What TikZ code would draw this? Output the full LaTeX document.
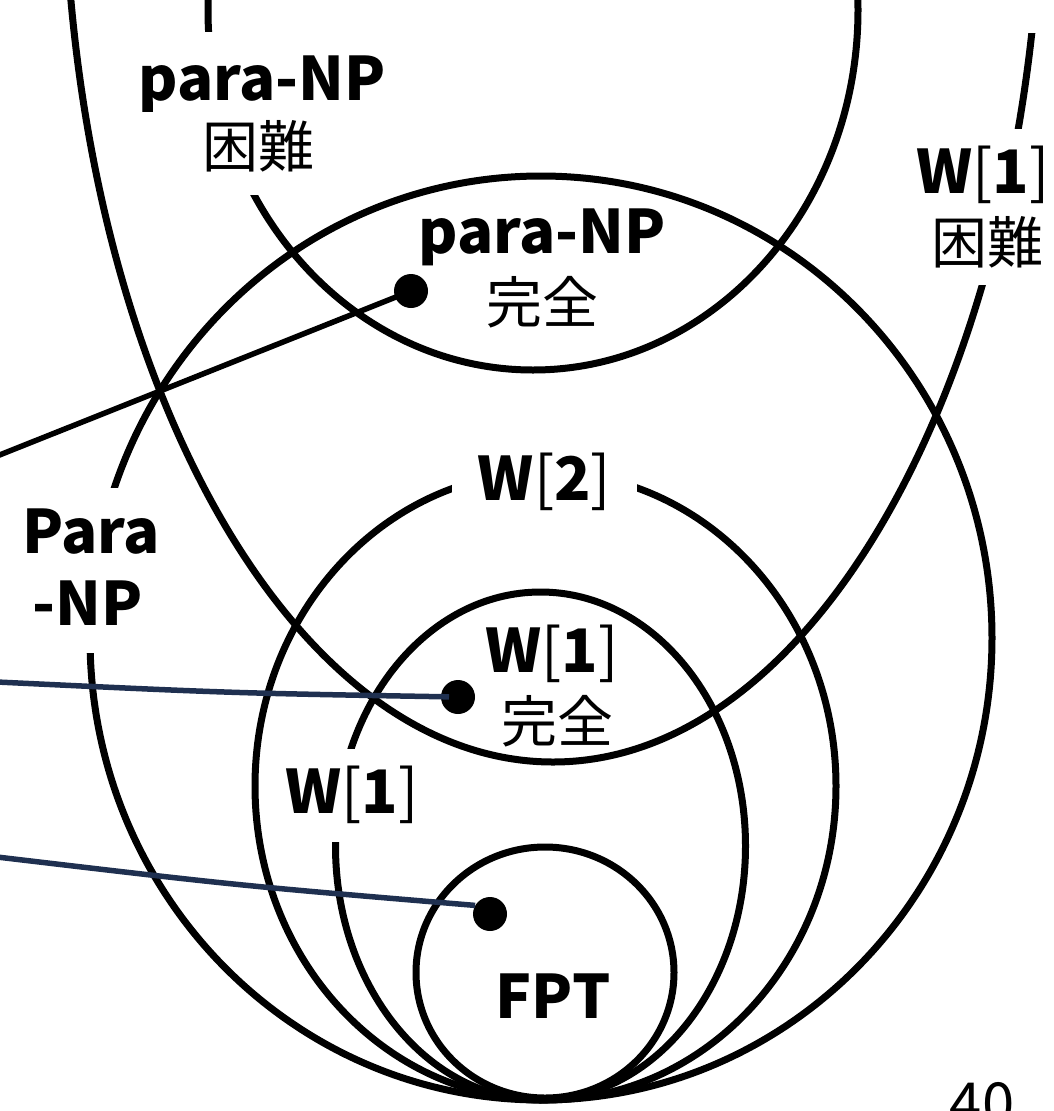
\documentclass[tikz,border=0pt]{standalone}
\usepackage{fontspec}
\setmainfont{Noto Sans CJK JP}
\definecolor{navy}{HTML}{1F3050}
\newcommand\Wlab[1]{W{\mdseries[}#1{\mdseries]}}
\tikzset{
  curve/.style={line width=7pt, draw=black},
  conn/.style={line width=5.5pt},
  dotnode/.style={circle, fill=black, inner sep=0pt, minimum size=34pt},
  lat/.style={font=\fontsize{60}{60}\selectfont\bfseries, inner sep=0pt, anchor=base},
  kan/.style={font=\fontsize{56}{56}\selectfont, inner sep=0pt, anchor=base},
  mask/.style={fill=white},
}
\begin{document}
\begin{tikzpicture}[x=1pt,y=-1pt]
\useasboundingbox (0,0) rectangle (1053,1111);
\begin{scope}
\clip (0,0) rectangle (1053,1111);
% set boundaries
\draw[curve] (541,638) ellipse [x radius=451, y radius=462];      % para-NP
\begin{scope}
\clip (-10,-10) -- (950,-10) -- (950,33) -- (1063,33) -- (1063,1121) -- (-10,1121) -- cycle;
\draw[curve] (553,-154) ellipse [x radius=489, y radius=916];     % W[1]-hard
\end{scope}
\draw[curve] (533,10) ellipse [x radius=325, y radius=360];       % para-NP-hard
\draw[curve] (545.5,786) ellipse [x radius=290.5, y radius=314];  % W[2]
\draw[curve] (540.5,846) ellipse [x radius=205, y radius=254];    % W[1]
\draw[curve] (545,972.5) ellipse [x radius=129, y radius=125.5];  % FPT

% labels
\node[lat, mask, text height=68pt, text depth=12pt, minimum width=250pt] (pnh1) at (262,100) {para-NP};
\node[kan, mask, text height=55pt, text depth=28pt, minimum width=250pt] (pnh2) at (258,167) {困難};

\node[lat, mask, text height=64pt, text depth=15pt, minimum width=150pt] (w1h1) at (983,193) {\Wlab{1}};
\node[kan, mask, text height=55pt, text depth=22pt, minimum width=150pt] (w1h2) at (987,263) {困難};

\node[lat] (pnc1) at (542,253) {para-NP};
\node[kan] (pnc2) at (542,323) {完全};

\node[lat, mask, text height=65pt, text depth=36pt, minimum width=140pt] (pp1) at (91,553) {Para};
\node[lat, mask, text height=36pt, text depth=28pt, minimum width=140pt] (pp2) at (88,625) {-NP};

\node[lat, mask, text height=45pt, text depth=10pt, minimum width=185pt] (w2) at (544.5,500) {\Wlab{2}};

\node[lat, mask, text height=64pt, text depth=29pt, minimum width=140pt] (w1l) at (352,813) {\Wlab{1}};

\node[lat] (w1c1) at (552,672) {\Wlab{1}};
\node[kan] (w1c2) at (557,742) {完全};

\node[lat] (fpt) at (553,1018) {FPT};

\node[font=\fontsize{58}{58}\selectfont, inner sep=0pt, anchor=base] (pg) at (982,1124) {40};

% connectors
\coordinate (e1) at (-3,456);
\coordinate (e2) at (-3,682);
\coordinate (e3) at (-3,857);
\node[dotnode] (d1) at (411,291) {};
\node[dotnode] (d2) at (458,697) {};
\node[dotnode] (d3) at (490,914) {};
\draw[conn, black] (e1) -- (d1.center);
\draw[conn, navy, shorten >=9pt] (e2) .. controls (229,693) .. (d2.center);
\draw[conn, navy] (e3) .. controls (238,885.5) .. (d3.150);
\end{scope}
\end{tikzpicture}
\end{document}
